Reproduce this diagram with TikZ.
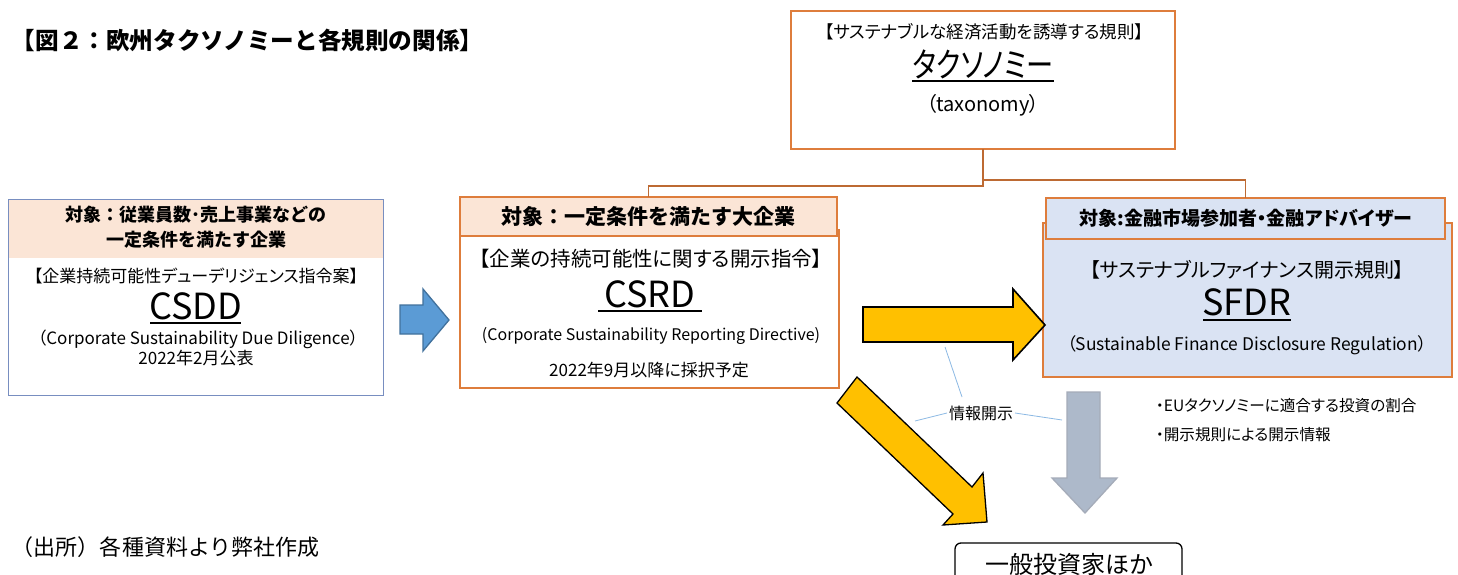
\documentclass[tikz,border=0pt]{standalone}
\usepackage{fontspec}
\setmainfont{Noto Sans CJK JP}[RawFeature={+palt}]
\newfontfamily\jpw{Noto Sans CJK JP}
\newcommand\fsz[1]{\fontsize{#1}{\dimexpr#1pt*6/5\relax}\selectfont}
\definecolor{orn}{RGB}{222,125,60}
\definecolor{peach}{RGB}{251,229,214}
\definecolor{lblue}{RGB}{218,227,243}
\definecolor{csddb}{RGB}{120,142,192}
\definecolor{ayel}{RGB}{255,192,0}
\definecolor{abl}{RGB}{91,155,213}
\definecolor{ablb}{RGB}{65,113,156}
\definecolor{agr}{RGB}{173,185,202}
\definecolor{agrb}{RGB}{165,172,185}
\definecolor{callc}{RGB}{140,185,228}
\begin{document}
\begin{tikzpicture}[x=1pt,y=-1pt,
  txt/.style={inner sep=0pt,outer sep=0pt,anchor=center,text=black},
  boxn/.style={inner sep=0pt,outer sep=0pt,anchor=north west},
  obox/.style={boxn,draw=orn,line width=1.3pt},
  conn/.style={draw=orn!85!black,line width=1.3pt},
  uline/.style={line width=1.1pt,black},
  callout/.style={draw=callc,line width=0.8pt}]
\useasboundingbox (0,0) rectangle (1458,575);
\clip (0,0) rectangle (1458,575);
\fill[white] (0,0) rectangle (1458,575);

% title
\node[txt,anchor=west] (title) at (12,40) {\jpw\fsz{23.6}\bfseries 【図２：欧州タクソノミーと各規則の関係】};

% taxonomy box
\node[obox,minimum width=384,minimum height=138] (tax) at (791,11) {};
\node[txt] (taxsub) at (984,32) {\fsz{17.5}【サステナブルな経済活動を誘導する規則】};
\node[txt] (taxmain) at (983,64) {\scalebox{0.8}[1]{\fsz{34}タクソノミー}};
\draw[uline] (912,81) -- (1054,81);
\node[txt] (taxen) at (983,105) {\fsz{20}（taxonomy）};

% CSDD box
\node[boxn,fill=peach,minimum width=375,minimum height=59] (csddh) at (8,199) {};
\node[boxn,draw=csddb,line width=0.9pt,minimum width=375,minimum height=196] (csdd) at (8,199) {};
\node[txt] (csddh1) at (196,215) {\jpw\fsz{18}\bfseries 対象：従業員数･売上事業などの};
\node[txt] (csddh2) at (196,240) {\jpw\fsz{18}\bfseries 一定条件を満たす企業};
\node[txt] (csddsub) at (196,276) {\fsz{17}【企業持続可能性デューデリジェンス指令案】};
\node[txt] (csddmain) at (196,306) {\fsz{36}CSDD};
\draw[uline] (150,323) -- (241,323);
\node[txt] (csdden) at (198,339) {\fsz{17}（Corporate Sustainability Due Diligence）};
\node[txt] (csdddate) at (196,358) {\fsz{17}2022年2月公表};

% CSRD box
\node[obox,fill=white,minimum width=379,minimum height=158] (csrd) at (460,230) {};
\node[obox,fill=peach,minimum width=377,minimum height=39] (csrdh) at (460,197) {};
\node[txt] (csrdht) at (648,217) {\jpw\fsz{21}\bfseries 対象：一定条件を満たす大企業};
\node[txt] (csrdsub) at (651,259) {\fsz{20.5}【企業の持続可能性に関する開示指令】};
\node[txt] (csrdmain) at (650,294) {\fsz{36}CSRD};
\draw[uline] (598,311) -- (702,311);
\node[txt] (csrden) at (651,336) {\fsz{16}(Corporate Sustainability Reporting Directive)};
\node[txt] (csrddate) at (649,370) {\fsz{17}2022年9月以降に採択予定};

% SFDR box
\node[obox,fill=lblue,minimum width=409,minimum height=154] (sfdr) at (1043,223) {};
\node[obox,fill=lblue,minimum width=399,minimum height=41] (sfdrh) at (1046,198) {};
\node[txt] (sfdrht) at (1246,218) {\fsz{19}\bfseries 対象:金融市場参加者・金融アドバイザー};
\node[txt] (sfdrsub) at (1247,270) {\fsz{20}【サステナブルファイナンス開示規則】};
\node[txt] (sfdrmain) at (1247,302) {\fsz{36}SFDR};
\draw[uline] (1203,320) -- (1291,320);
\node[txt] (sfdren) at (1247,345) {\fsz{17.4}（Sustainable Finance Disclosure Regulation）};

% connectors from taxonomy
\coordinate (j1) at (983,186);
\coordinate (j2) at (983,180);
\draw[conn] (tax.south) -- (tax.south |- j1) -| (csrdh.north);
\draw[conn] (tax.south |- j2) -| (sfdrh.north);

% blue arrow
\draw[fill=abl,draw=ablb,line width=1.3pt,line join=miter]
  (400,305) -- (423,305) -- (423,289) -- (449,320) -- (423,351) -- (423,334) -- (400,334) -- cycle;

% yellow right arrow
\draw[fill=ayel,draw=black,line width=1.6pt,line join=miter]
  (863,307) -- (1013,307) -- (1013,289) -- (1045,325) -- (1013,360) -- (1013,342) -- (863,342) -- cycle;

% yellow diagonal arrow
\draw[fill=ayel,draw=black,line width=1.3pt,line join=miter]
  (857,377) -- (972,487) -- (983,473) -- (987,522) -- (943,525) -- (953,514) -- (837,403) -- cycle;

% gray down arrow
\draw[fill=agr,draw=agrb,line width=1.3pt,line join=miter]
  (1067,392) -- (1100,392) -- (1100,478) -- (1117,478) -- (1085,513) -- (1052,478) -- (1067,478) -- cycle;

% info label with callout lines
\node[txt] (info) at (981,413) {\fsz{16}情報開示};
\coordinate (c1) at (945,347);
\coordinate (c2) at (915,421);
\coordinate (c3) at (1062,420);
\draw[callout] (c1) -- ([shift={(-19,-16)}]info.center);
\draw[callout] (c2) -- ([shift={(-2,0)}]info.west);
\draw[callout] ([shift={(2,0)}]info.east) -- (c3);

% bullets
\node[txt,anchor=west] (b1) at (1156,406) {\fsz{15.6}・EUタクソノミーに適合する投資の割合};
\node[txt,anchor=west] (b2) at (1156,435) {\fsz{15.6}・開示規則による開示情報};

% investors box
\node[boxn,draw=black,line width=1.3pt,rounded corners=6pt,minimum width=227,minimum height=70] (inv) at (955,543) {};
\node[txt] (invt) at (1069,564) {\fsz{24}一般投資家ほか};

% source
\node[txt,anchor=west] (src) at (12,547) {\jpw\fsz{22}（出所）各種資料より弊社作成};
\end{tikzpicture}
\end{document}
